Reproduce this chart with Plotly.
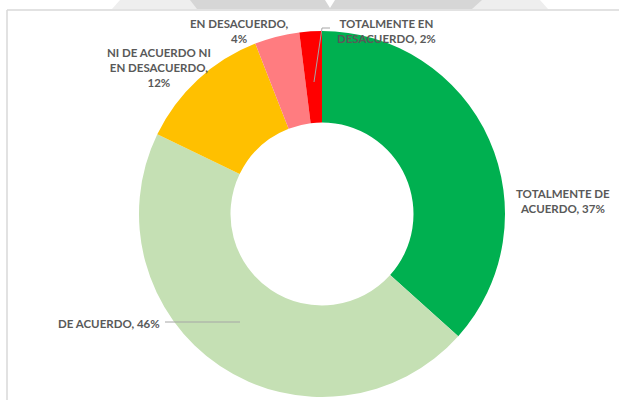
import plotly.graph_objects as go

# Data
categories = ["TOTALMENTE DE ACUERDO", "DE ACUERDO", "NI DE ACUERDO NI EN DESACUERDO",
              "EN DESACUERDO", "TOTALMENTE EN DESACUERDO"]
values = [37, 46, 12, 4, 2]
colors = ["#00B050", "#C5E0B4", "#FFC000", "#FF7C80", "#FF0000"]

W, H = 619, 400


def px(x):
    return x / W


def py(y):
    return 1 - y / H


fig = go.Figure()

# donut, clockwise from 12 o'clock
cx, cy, r = 322, 214, 183
fig.add_trace(go.Pie(
    labels=categories,
    values=values,
    hole=0.5,
    sort=False,
    direction="clockwise",
    rotation=0,
    marker=dict(colors=colors, line=dict(width=0)),
    textinfo="none",
    hoverinfo="label+percent",
    showlegend=False,
    domain=dict(x=[px(cx - r), px(cx + r)], y=[py(cy + r), py(cy - r)]),
))

# labels (category, value%)
label_text = [
    "TOTALMENTE DE<br>ACUERDO, %d%%" % values[0],
    "DE ACUERDO, %d%%" % values[1],
    "NI DE ACUERDO NI<br>EN DESACUERDO,<br>%d%%" % values[2],
    "EN DESACUERDO,<br>%d%%" % values[3],
    "TOTALMENTE EN<br>DESACUERDO, %d%%" % values[4],
]
label_pos = [(563, 201), (109, 323), (159, 67), (239, 31), (386, 31)]

font = dict(family="Lato", size=11.5, color="#595959")
for t, (x, y) in zip(label_text, label_pos):
    fig.add_annotation(x=px(x), y=py(y), xref="paper", yref="paper", text="<b>%s</b>" % t,
                       xanchor="center", yanchor="middle",
                       showarrow=False, font=font, align="center")

shapes = [
    # watermark band at the top
    dict(type="path", path="M %f,%f L %f,%f L %f,%f L %f,%f Z" % (
        px(120), py(0), px(540), py(0), px(548), py(9), px(112), py(9)),
        fillcolor="#EEEEEE", line=dict(width=0), layer="below"),
    dict(type="path", path="M %f,%f L %f,%f L %f,%f L %f,%f Z" % (
        px(190), py(0), px(482), py(0), px(472), py(9), px(197), py(9)),
        fillcolor="#D6D6D6", line=dict(width=0), layer="below"),
    dict(type="path", path="M %f,%f L %f,%f L %f,%f Z" % (
        px(325), py(0), px(335), py(0), px(330), py(8)),
        fillcolor="#FFFFFF", line=dict(width=0), layer="below"),
    # chart frame
    dict(type="line", x0=px(7), x1=px(7), y0=py(10), y1=0, line=dict(color="#D9D9D9", width=1.5)),
    dict(type="line", x0=px(7), x1=1, y0=py(10), y1=py(10), line=dict(color="#D9D9D9", width=1.5)),
    # leader lines
    dict(type="line", x0=px(165), x1=px(240), y0=py(322), y1=py(322), line=dict(color="#A6A6A6", width=1)),
    dict(type="path", path="M %f,%f L %f,%f L %f,%f" % (
        px(314), py(82), px(322), py(28), px(330), py(28)),
        line=dict(color="#A6A6A6", width=1)),
]

fig.update_layout(
    width=W, height=H,
    margin=dict(l=0, r=0, t=0, b=0),
    paper_bgcolor="white",
    plot_bgcolor="white",
    shapes=shapes,
)

# drop the browser's default body margin so the figure fills the window
fig.write_html("out.html", config={"displayModeBar": False},
               post_script="document.body.style.margin='0';")
